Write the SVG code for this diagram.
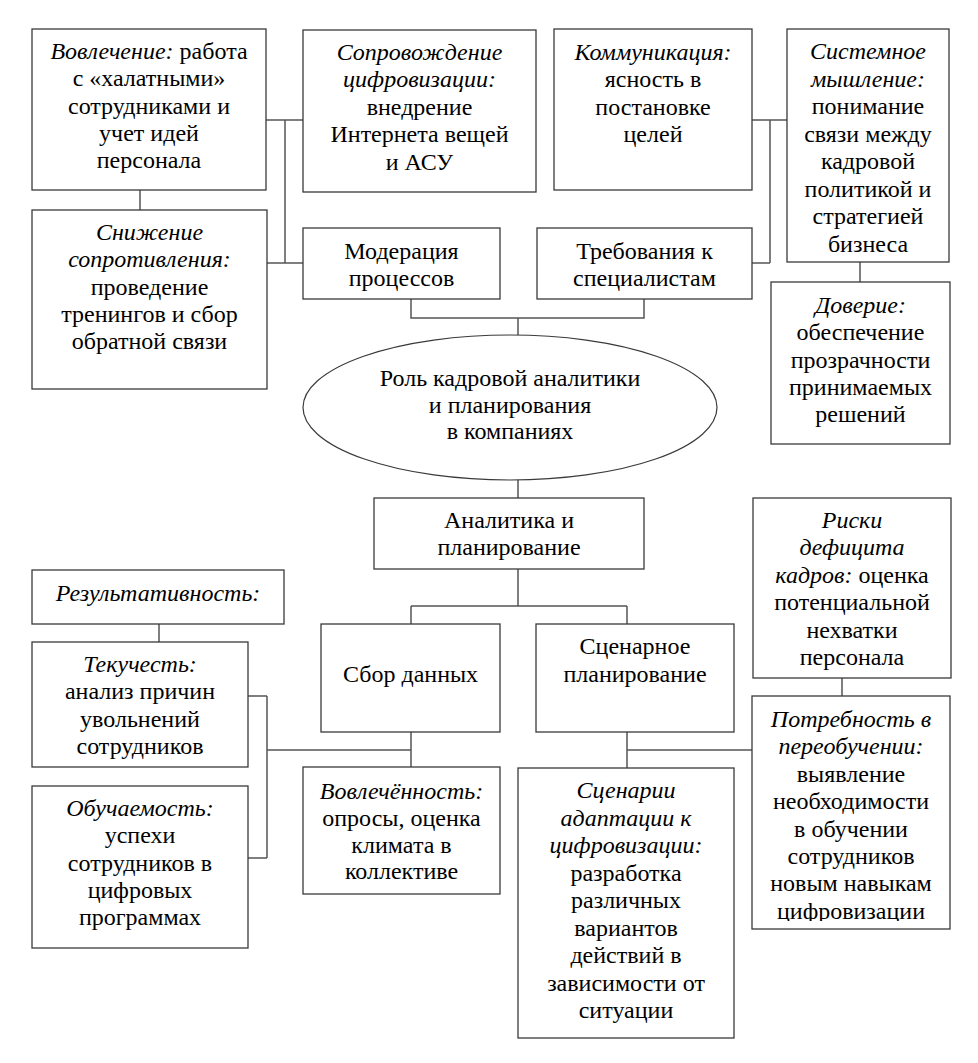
<svg xmlns="http://www.w3.org/2000/svg" width="978" height="1063" viewBox="0 0 978 1063" font-family="Liberation Serif, serif">
<defs>
<clipPath id="clipPot"><rect x="752" y="696" width="198" height="225"/></clipPath>
</defs>
<rect width="978" height="1063" fill="#fff"/>
<g id="connectors" fill="none" stroke="#555" stroke-width="1.5">
<path d="M266,120H303M285,120V263M267,263H303M140,190V210"/>
<path d="M752,120H787M770,120V263M752,263H770M860,262V282"/>
<path d="M411,299V318H644V299M518,318V335"/>
<path d="M518,480V498M518,569V606M411,606H627M411,606V624M627,606V624"/>
<path d="M159,624V642M248,696H267M267,696V858M248,858H267M267,750H411M411,732V767"/>
<path d="M627,732V768M627,750H752M842,678V696"/>
</g>
<g id="n-vovlechenie">
<rect x="32" y="29" width="234" height="161" fill="#fff" stroke="#3a3a3a" stroke-width="1.3"/>
<text x="149" y="59" font-family="Liberation Serif, serif" font-size="24" text-anchor="middle"><tspan font-style="italic">Вовлечение:</tspan> работа</text>
<text x="149" y="86.3" font-family="Liberation Serif, serif" font-size="24" text-anchor="middle">с «халатными»</text>
<text x="149" y="113.6" font-family="Liberation Serif, serif" font-size="24" text-anchor="middle">сотрудниками и</text>
<text x="149" y="140.9" font-family="Liberation Serif, serif" font-size="24" text-anchor="middle">учет идей</text>
<text x="149" y="168.2" font-family="Liberation Serif, serif" font-size="24" text-anchor="middle">персонала</text>
</g>
<g id="n-soprovozhdenie">
<rect x="303" y="30" width="233" height="162" fill="#fff" stroke="#3a3a3a" stroke-width="1.3"/>
<text x="419.5" y="60" font-family="Liberation Serif, serif" font-size="24" text-anchor="middle" font-style="italic">Сопровождение</text>
<text x="419.5" y="87.4" font-family="Liberation Serif, serif" font-size="24" text-anchor="middle" font-style="italic">цифровизации:</text>
<text x="419.5" y="114.8" font-family="Liberation Serif, serif" font-size="24" text-anchor="middle">внедрение</text>
<text x="419.5" y="142.2" font-family="Liberation Serif, serif" font-size="24" text-anchor="middle">Интернета вещей</text>
<text x="419.5" y="169.6" font-family="Liberation Serif, serif" font-size="24" text-anchor="middle">и АСУ</text>
</g>
<g id="n-kommunikaciya">
<rect x="554" y="29" width="198" height="161" fill="#fff" stroke="#3a3a3a" stroke-width="1.3"/>
<text x="653" y="60" font-family="Liberation Serif, serif" font-size="24" text-anchor="middle" font-style="italic">Коммуникация:</text>
<text x="653" y="87.4" font-family="Liberation Serif, serif" font-size="24" text-anchor="middle">ясность в</text>
<text x="653" y="114.8" font-family="Liberation Serif, serif" font-size="24" text-anchor="middle">постановке</text>
<text x="653" y="142.2" font-family="Liberation Serif, serif" font-size="24" text-anchor="middle">целей</text>
</g>
<g id="n-sistemnoe">
<rect x="787" y="29" width="162" height="233" fill="#fff" stroke="#3a3a3a" stroke-width="1.3"/>
<text x="868" y="59" font-family="Liberation Serif, serif" font-size="24" text-anchor="middle" font-style="italic">Системное</text>
<text x="868" y="86.5" font-family="Liberation Serif, serif" font-size="24" text-anchor="middle" font-style="italic">мышление:</text>
<text x="868" y="114" font-family="Liberation Serif, serif" font-size="24" text-anchor="middle">понимание</text>
<text x="868" y="141.5" font-family="Liberation Serif, serif" font-size="24" text-anchor="middle">связи между</text>
<text x="868" y="169" font-family="Liberation Serif, serif" font-size="24" text-anchor="middle">кадровой</text>
<text x="868" y="196.5" font-family="Liberation Serif, serif" font-size="24" text-anchor="middle">политикой и</text>
<text x="868" y="224" font-family="Liberation Serif, serif" font-size="24" text-anchor="middle">стратегией</text>
<text x="868" y="251.5" font-family="Liberation Serif, serif" font-size="24" text-anchor="middle">бизнеса</text>
</g>
<g id="n-snizhenie">
<rect x="32" y="210" width="235" height="179" fill="#fff" stroke="#3a3a3a" stroke-width="1.3"/>
<text x="149.5" y="240" font-family="Liberation Serif, serif" font-size="24" text-anchor="middle" font-style="italic">Снижение</text>
<text x="149.5" y="267.3" font-family="Liberation Serif, serif" font-size="24" text-anchor="middle" font-style="italic">сопротивления:</text>
<text x="149.5" y="294.6" font-family="Liberation Serif, serif" font-size="24" text-anchor="middle">проведение</text>
<text x="149.5" y="322" font-family="Liberation Serif, serif" font-size="24" text-anchor="middle">тренингов и сбор</text>
<text x="149.5" y="349.3" font-family="Liberation Serif, serif" font-size="24" text-anchor="middle">обратной связи</text>
</g>
<g id="n-moderaciya">
<rect x="303" y="228" width="197" height="71" fill="#fff" stroke="#3a3a3a" stroke-width="1.3"/>
<text x="401.5" y="259" font-family="Liberation Serif, serif" font-size="24" text-anchor="middle">Модерация</text>
<text x="401.5" y="286" font-family="Liberation Serif, serif" font-size="24" text-anchor="middle">процессов</text>
</g>
<g id="n-trebovaniya">
<rect x="537" y="228" width="215" height="71" fill="#fff" stroke="#3a3a3a" stroke-width="1.3"/>
<text x="644.5" y="259" font-family="Liberation Serif, serif" font-size="24" text-anchor="middle">Требования к</text>
<text x="644.5" y="286" font-family="Liberation Serif, serif" font-size="24" text-anchor="middle">специалистам</text>
</g>
<g id="n-doverie">
<rect x="771" y="282" width="179" height="162" fill="#fff" stroke="#3a3a3a" stroke-width="1.3"/>
<text x="860.5" y="313" font-family="Liberation Serif, serif" font-size="24" text-anchor="middle" font-style="italic">Доверие:</text>
<text x="860.5" y="340.3" font-family="Liberation Serif, serif" font-size="24" text-anchor="middle">обеспечение</text>
<text x="860.5" y="367.6" font-family="Liberation Serif, serif" font-size="24" text-anchor="middle">прозрачности</text>
<text x="860.5" y="395" font-family="Liberation Serif, serif" font-size="24" text-anchor="middle">принимаемых</text>
<text x="860.5" y="422.3" font-family="Liberation Serif, serif" font-size="24" text-anchor="middle">решений</text>
</g>
<g id="n-rol">
<ellipse cx="510" cy="407.5" rx="207" ry="72.5" fill="#fff" stroke="#3a3a3a" stroke-width="1.2"/>
<text x="510" y="386" font-family="Liberation Serif, serif" font-size="24" text-anchor="middle">Роль кадровой аналитики</text>
<text x="510" y="412.6" font-family="Liberation Serif, serif" font-size="24" text-anchor="middle">и планирования</text>
<text x="510" y="439.2" font-family="Liberation Serif, serif" font-size="24" text-anchor="middle">в компаниях</text>
</g>
<g id="n-analitika">
<rect x="374" y="498" width="270" height="71" fill="#fff" stroke="#3a3a3a" stroke-width="1.3"/>
<text x="509" y="528" font-family="Liberation Serif, serif" font-size="24" text-anchor="middle">Аналитика и</text>
<text x="509" y="555" font-family="Liberation Serif, serif" font-size="24" text-anchor="middle">планирование</text>
</g>
<g id="n-rezultativnost">
<rect x="32" y="570" width="252" height="54" fill="#fff" stroke="#3a3a3a" stroke-width="1.3"/>
<text x="158" y="601" font-family="Liberation Serif, serif" font-size="24" text-anchor="middle" font-style="italic">Результативность:</text>
</g>
<g id="n-tekuchest">
<rect x="32" y="642" width="216" height="125" fill="#fff" stroke="#3a3a3a" stroke-width="1.3"/>
<text x="140" y="672" font-family="Liberation Serif, serif" font-size="24" text-anchor="middle" font-style="italic">Текучесть:</text>
<text x="140" y="699.3" font-family="Liberation Serif, serif" font-size="24" text-anchor="middle">анализ причин</text>
<text x="140" y="726.6" font-family="Liberation Serif, serif" font-size="24" text-anchor="middle">увольнений</text>
<text x="140" y="754" font-family="Liberation Serif, serif" font-size="24" text-anchor="middle">сотрудников</text>
</g>
<g id="n-obuchaemost">
<rect x="32" y="786" width="216" height="162" fill="#fff" stroke="#3a3a3a" stroke-width="1.3"/>
<text x="140" y="816" font-family="Liberation Serif, serif" font-size="24" text-anchor="middle" font-style="italic">Обучаемость:</text>
<text x="140" y="843.3" font-family="Liberation Serif, serif" font-size="24" text-anchor="middle">успехи</text>
<text x="140" y="870.6" font-family="Liberation Serif, serif" font-size="24" text-anchor="middle">сотрудников в</text>
<text x="140" y="898" font-family="Liberation Serif, serif" font-size="24" text-anchor="middle">цифровых</text>
<text x="140" y="925.3" font-family="Liberation Serif, serif" font-size="24" text-anchor="middle">программах</text>
</g>
<g id="n-sbor">
<rect x="321" y="624" width="179" height="108" fill="#fff" stroke="#3a3a3a" stroke-width="1.3"/>
<text x="410.5" y="682" font-family="Liberation Serif, serif" font-size="24" text-anchor="middle">Сбор данных</text>
</g>
<g id="n-vovlechennost">
<rect x="303" y="767" width="197" height="127" fill="#fff" stroke="#3a3a3a" stroke-width="1.3"/>
<text x="401.5" y="799" font-family="Liberation Serif, serif" font-size="24" text-anchor="middle" font-style="italic">Вовлечённость:</text>
<text x="401.5" y="826" font-family="Liberation Serif, serif" font-size="24" text-anchor="middle">опросы, оценка</text>
<text x="401.5" y="852.5" font-family="Liberation Serif, serif" font-size="24" text-anchor="middle">климата в</text>
<text x="401.5" y="879" font-family="Liberation Serif, serif" font-size="24" text-anchor="middle">коллективе</text>
</g>
<g id="n-scenarnoe">
<rect x="536" y="624" width="198" height="108" fill="#fff" stroke="#3a3a3a" stroke-width="1.3"/>
<text x="635" y="654" font-family="Liberation Serif, serif" font-size="24" text-anchor="middle">Сценарное</text>
<text x="635" y="682" font-family="Liberation Serif, serif" font-size="24" text-anchor="middle">планирование</text>
</g>
<g id="n-scenarii">
<rect x="518" y="768" width="216" height="270" fill="#fff" stroke="#3a3a3a" stroke-width="1.3"/>
<text x="626" y="798" font-family="Liberation Serif, serif" font-size="24" text-anchor="middle" font-style="italic">Сценарии</text>
<text x="626" y="825.5" font-family="Liberation Serif, serif" font-size="24" text-anchor="middle" font-style="italic">адаптации к</text>
<text x="626" y="853" font-family="Liberation Serif, serif" font-size="24" text-anchor="middle" font-style="italic">цифровизации:</text>
<text x="626" y="880.5" font-family="Liberation Serif, serif" font-size="24" text-anchor="middle">разработка</text>
<text x="626" y="908" font-family="Liberation Serif, serif" font-size="24" text-anchor="middle">различных</text>
<text x="626" y="935.5" font-family="Liberation Serif, serif" font-size="24" text-anchor="middle">вариантов</text>
<text x="626" y="963" font-family="Liberation Serif, serif" font-size="24" text-anchor="middle">действий в</text>
<text x="626" y="990.5" font-family="Liberation Serif, serif" font-size="24" text-anchor="middle">зависимости от</text>
<text x="626" y="1018" font-family="Liberation Serif, serif" font-size="24" text-anchor="middle">ситуации</text>
</g>
<g id="n-riski">
<rect x="753" y="498" width="198" height="180" fill="#fff" stroke="#3a3a3a" stroke-width="1.3"/>
<text x="852" y="528" font-family="Liberation Serif, serif" font-size="24" text-anchor="middle" font-style="italic">Риски</text>
<text x="852" y="555.4" font-family="Liberation Serif, serif" font-size="24" text-anchor="middle" font-style="italic">дефицита</text>
<text x="852" y="582.8" font-family="Liberation Serif, serif" font-size="24" text-anchor="middle"><tspan font-style="italic">кадров:</tspan> оценка</text>
<text x="852" y="610.2" font-family="Liberation Serif, serif" font-size="24" text-anchor="middle">потенциальной</text>
<text x="852" y="637.6" font-family="Liberation Serif, serif" font-size="24" text-anchor="middle">нехватки</text>
<text x="852" y="665" font-family="Liberation Serif, serif" font-size="24" text-anchor="middle">персонала</text>
</g>
<g id="n-potrebnost">
<rect x="752" y="696" width="198" height="233" fill="#fff" stroke="#3a3a3a" stroke-width="1.3"/>
<text x="851" y="727" font-family="Liberation Serif, serif" font-size="24" text-anchor="middle" font-style="italic">Потребность в</text>
<text x="851" y="754.4" font-family="Liberation Serif, serif" font-size="24" text-anchor="middle" font-style="italic">переобучении:</text>
<text x="851" y="781.8" font-family="Liberation Serif, serif" font-size="24" text-anchor="middle">выявление</text>
<text x="851" y="809.2" font-family="Liberation Serif, serif" font-size="24" text-anchor="middle">необходимости</text>
<text x="851" y="836.6" font-family="Liberation Serif, serif" font-size="24" text-anchor="middle">в обучении</text>
<text x="851" y="864" font-family="Liberation Serif, serif" font-size="24" text-anchor="middle">сотрудников</text>
<text x="851" y="891.4" font-family="Liberation Serif, serif" font-size="24" text-anchor="middle">новым навыкам</text>
<text x="851" y="918.8" font-family="Liberation Serif, serif" font-size="24" text-anchor="middle" clip-path="url(#clipPot)">цифровизации</text>
</g>
</svg>
